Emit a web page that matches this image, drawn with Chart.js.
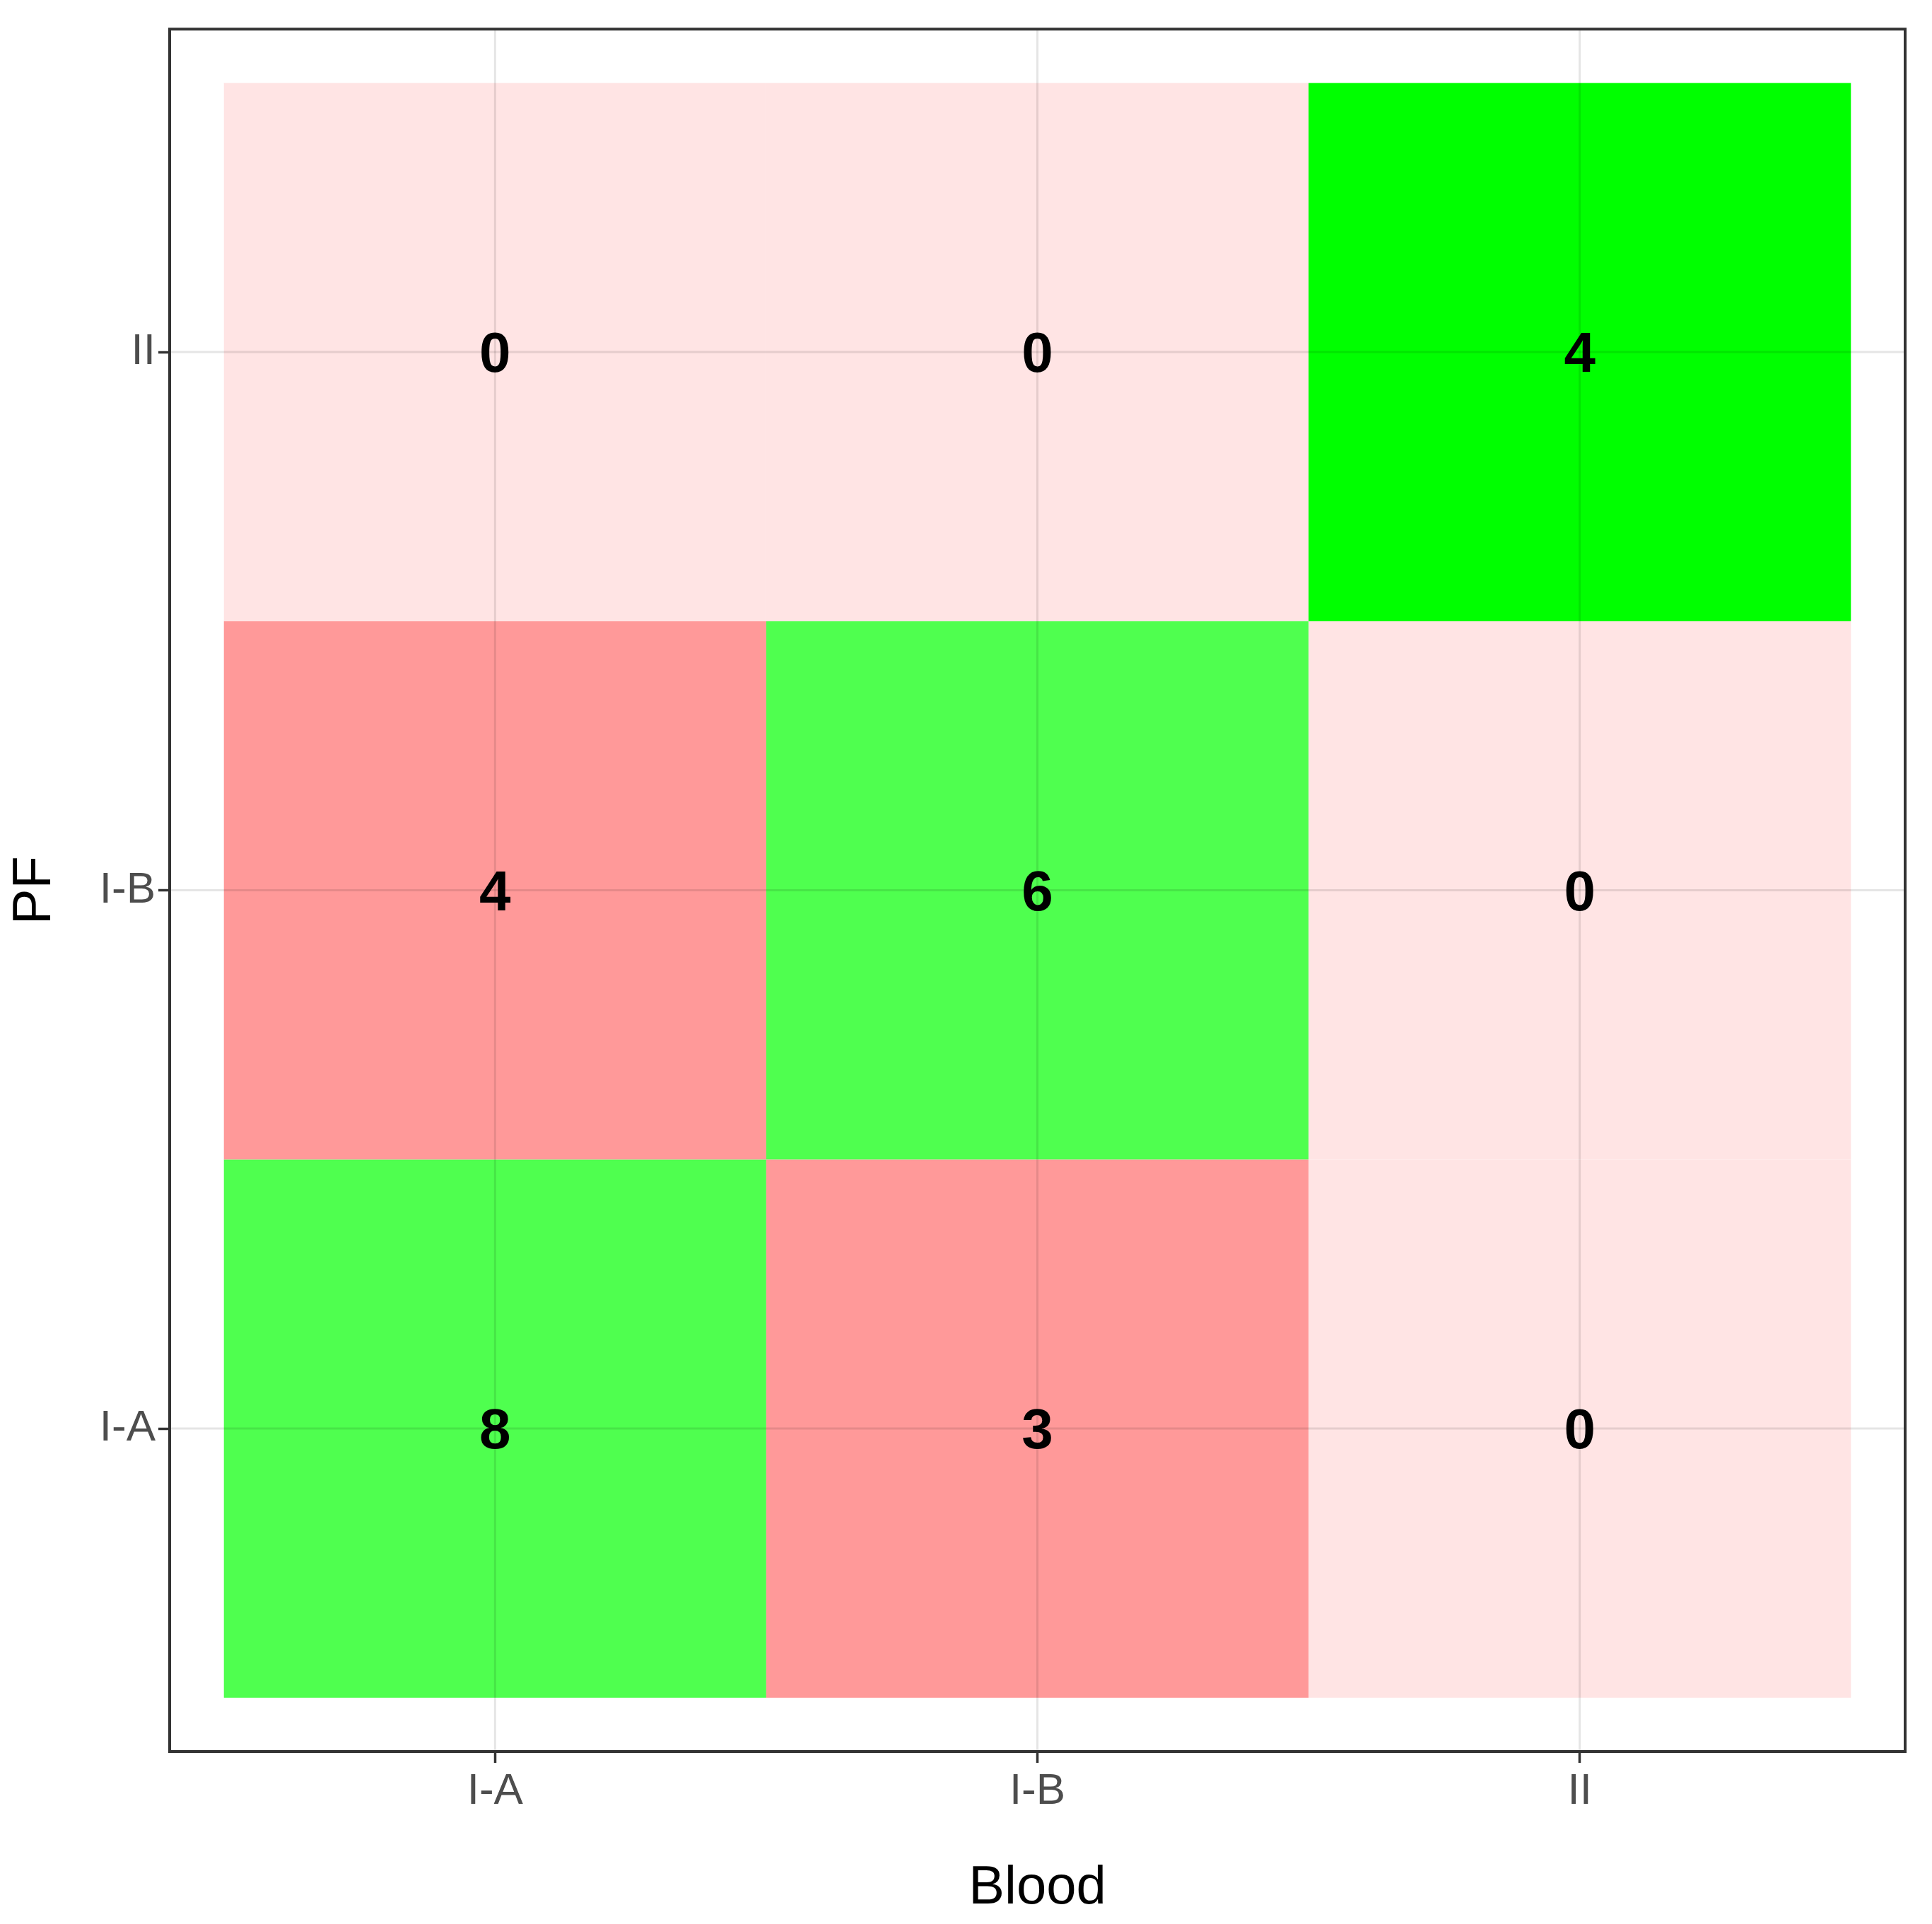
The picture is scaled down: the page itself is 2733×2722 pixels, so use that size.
<!DOCTYPE html>
<html><head><meta charset="utf-8">
<script src="https://cdn.jsdelivr.net/npm/chart.js@4"></script>
<style>html,body{margin:0;padding:0;background:#fff}</style>
</head><body>
<canvas id="c" width="2733" height="2722" style="width:2733px;height:2722px"></canvas>
<script>
const bloodCats = ["I-A","I-B","II"];
const pfCats = ["I-A","I-B","II"];
// counts per PF row, columns = Blood
const countsIA = [8,3,0];
const countsIB = [4,6,0];
const countsII = [0,0,4];
const cellColors = {
  match: "#4FFF4F", matchMax: "#00FF00", miss: "#FF9999", zero: "#FFE4E4"
};
const rows = [countsIA, countsIB, countsII];

function colorFor(r,c,v){
  if (v===0) return cellColors.zero;
  if (r===c) return (r===2) ? cellColors.matchMax : cellColors.match;
  return cellColors.miss;
}

const tiles = {
  id:'tiles',
  beforeDatasetsDraw(chart){
    const {ctx, scales:{x,y}, chartArea:a} = chart;
    rows.forEach((row,r)=>row.forEach((v,c)=>{
      const x0=x.getPixelForValue(c+0.5), x1=x.getPixelForValue(c+1.5);
      const y0=y.getPixelForValue(r+1.5), y1=y.getPixelForValue(r+0.5);
      ctx.fillStyle=colorFor(r,c,v);
      ctx.fillRect(x0,y0,x1-x0,y1-y0);
    }));
    ctx.save();
    ctx.strokeStyle="rgba(0,0,0,0.1)"; ctx.lineWidth=3;
    [1,2,3].forEach(v=>{
      const px=x.getPixelForValue(v), py=y.getPixelForValue(v);
      ctx.beginPath(); ctx.moveTo(px,a.top); ctx.lineTo(px,a.bottom); ctx.stroke();
      ctx.beginPath(); ctx.moveTo(a.left,py); ctx.lineTo(a.right,py); ctx.stroke();
    });
    ctx.restore();
  },
  afterDraw(chart){
    const {ctx, scales:{x,y}, chartArea:a} = chart;
    ctx.save();
    ctx.font="bold 80px Arial, 'Liberation Sans', sans-serif";
    ctx.fillStyle="#000"; ctx.textAlign="center"; ctx.textBaseline="middle";
    rows.forEach((row,r)=>row.forEach((v,c)=>{
      ctx.fillText(String(v), x.getPixelForValue(c+1), y.getPixelForValue(r+1)+6);
    }));
    ctx.strokeStyle="#333"; ctx.lineWidth=4;
    ctx.strokeRect(a.left,a.top,a.right-a.left,a.bottom-a.top);
    ctx.restore();
  }
};

const tickFont = {family:"Arial, 'Liberation Sans', sans-serif", size:62};
function axis(cats, isX){
  return {
    type:'linear', min:0.4, max:3.6,
    afterBuildTicks(s){ s.ticks=[1,2,3].map(v=>({value:v})); },
    afterFit(s){ if(isX) s.height=244; else s.width=240; },
    ticks:{ callback:(v)=>cats[v-1], color:"#4D4D4D", font:tickFont, padding:isX?4:4 },
    grid:{ color:"rgba(0,0,0,0)", lineWidth:3, tickLength:16, tickColor:"#333", tickWidth:3.5 },
    border:{display:false},
    title:{ display:true, text:isX?"Blood":"PF", color:"#000",
      font:{family:"Arial, 'Liberation Sans', sans-serif", size:76}, padding:isX?{top:0}:{bottom:0} }
  };
}

new Chart(document.getElementById('c'), {
  type:'scatter',
  data:{datasets:[{data:[]}]},
  options:{
    responsive:false, animation:false, devicePixelRatio:1,
    layout:{padding:{top:32,right:38,left:0,bottom:0}},
    plugins:{legend:{display:false}, tooltip:{enabled:false}},
    scales:{ x:axis(bloodCats,true), y:axis(pfCats,false) }
  },
  plugins:[tiles]
});
</script>
</body></html>
